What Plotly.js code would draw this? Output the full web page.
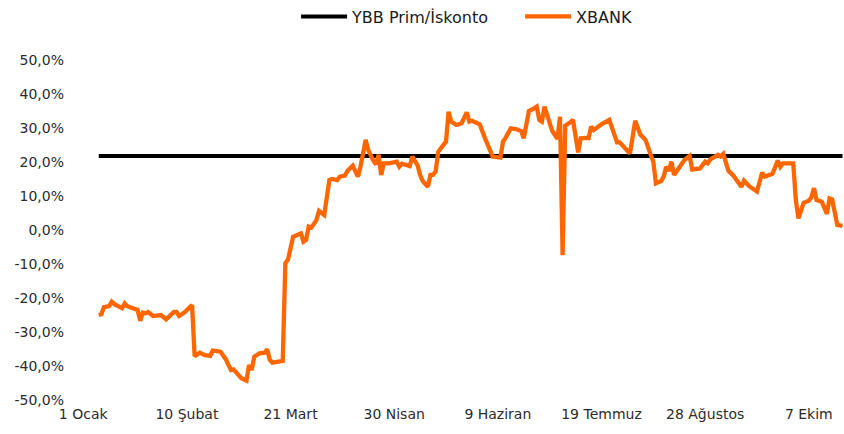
<!DOCTYPE html>
<html>
<head>
<meta charset="utf-8">
<script src="https://cdn.plot.ly/plotly-3.0.1.min.js"></script>
<style>
html,body{margin:0;padding:0;background:#fff;}
#chart{width:844px;height:434px;}
</style>
</head>
<body>
<div id="chart"></div>
<script>
const xbankDates = [
'2024-01-07','2024-01-08','2024-01-09','2024-01-11','2024-01-12','2024-01-13','2024-01-16','2024-01-17','2024-01-18','2024-01-22',
'2024-01-23','2024-01-24','2024-01-25','2024-01-26','2024-01-28','2024-01-31','2024-02-02','2024-02-05','2024-02-06','2024-02-07',
'2024-02-09','2024-02-12','2024-02-13','2024-02-15','2024-02-17','2024-02-19','2024-02-20','2024-02-22','2024-02-23','2024-02-25',
'2024-02-27','2024-02-28','2024-03-01','2024-03-02','2024-03-04','2024-03-05','2024-03-06','2024-03-07','2024-03-09','2024-03-11',
'2024-03-12','2024-03-13','2024-03-14','2024-03-18','2024-03-19','2024-03-20','2024-03-22','2024-03-25','2024-03-26','2024-03-27',
'2024-03-28','2024-03-29','2024-03-31','2024-04-01','2024-04-03','2024-04-05','2024-04-06','2024-04-08','2024-04-09','2024-04-11',
'2024-04-12','2024-04-14','2024-04-16','2024-04-17','2024-04-19','2024-04-20','2024-04-22','2024-04-23','2024-04-24','2024-04-25',
'2024-04-26','2024-04-28','2024-05-01','2024-05-02','2024-05-03','2024-05-06','2024-05-07','2024-05-08','2024-05-09','2024-05-10',
'2024-05-11','2024-05-13','2024-05-14','2024-05-15','2024-05-16','2024-05-17','2024-05-19','2024-05-20','2024-05-21','2024-05-22',
'2024-05-24','2024-05-26','2024-05-28','2024-05-29','2024-05-30','2024-06-02','2024-06-04','2024-06-05','2024-06-06','2024-06-07',
'2024-06-10','2024-06-11','2024-06-12','2024-06-14','2024-06-16','2024-06-18','2024-06-19','2024-06-21','2024-06-23','2024-06-24',
'2024-06-25','2024-06-26','2024-06-27','2024-06-29','2024-06-30','2024-07-02','2024-07-03','2024-07-04','2024-07-05','2024-07-07',
'2024-07-08','2024-07-10','2024-07-11','2024-07-13','2024-07-14','2024-07-15','2024-07-16','2024-07-19','2024-07-22','2024-07-25',
'2024-07-26','2024-07-30','2024-08-01','2024-08-03','2024-08-05','2024-08-07','2024-08-08','2024-08-09','2024-08-11','2024-08-12',
'2024-08-13','2024-08-14','2024-08-15','2024-08-16','2024-08-18','2024-08-20','2024-08-22','2024-08-23','2024-08-26','2024-08-28',
'2024-08-29','2024-08-30','2024-09-02','2024-09-03','2024-09-04','2024-09-06','2024-09-08','2024-09-10','2024-09-11','2024-09-12',
'2024-09-14','2024-09-17','2024-09-18','2024-09-19','2024-09-20','2024-09-23','2024-09-25','2024-09-26','2024-09-27','2024-10-01',
'2024-10-02','2024-10-03','2024-10-05','2024-10-07','2024-10-08','2024-10-09','2024-10-10','2024-10-12','2024-10-14','2024-10-15',
'2024-10-16','2024-10-18','2024-10-20'];

const xbankValues = [
-25.0,-24.8,-22.7,-22.4,-21.1,-21.8,-23.0,-21.6,-22.4,-23.5,
-26.7,-24.3,-24.5,-24.1,-25.3,-25.0,-26.3,-24.1,-24.1,-25.3,
-24.3,-22.1,-37.1,-36.1,-36.8,-37.0,-35.5,-35.8,-35.8,-38.0,
-41.2,-41.0,-42.6,-43.6,-44.3,-39.7,-41.2,-37.3,-36.3,-36.1,
-35.1,-38.2,-39.0,-38.5,-9.8,-8.8,-2.0,-1.0,-3.4,-2.9,
1.0,0.7,2.9,5.6,4.4,14.7,15.0,14.7,15.7,16.0,
17.4,18.9,15.7,18.6,26.5,23.5,20.3,19.3,22.1,16.2,
19.6,19.6,20.1,18.6,19.5,18.8,21.6,20.6,19.1,16.2,
14.4,12.7,16.2,16.2,17.2,23.0,25.0,26.0,34.8,31.9,
30.9,31.4,34.6,31.9,32.1,31.1,27.1,25.2,23.5,21.6,
21.3,26.0,27.1,29.9,29.7,29.1,27.0,35.0,35.8,36.3,
32.4,31.9,36.3,31.4,29.1,26.8,33.3,-7.4,30.7,31.7,
32.4,22.8,27.0,27.1,27.0,30.4,29.4,31.1,32.4,25.8,
25.8,22.5,32.1,28.1,26.5,22.1,20.1,13.7,14.4,15.7,
18.6,17.4,20.1,16.2,18.6,20.6,21.8,17.8,18.1,20.1,
19.6,20.8,22.1,21.6,22.4,17.4,15.9,13.7,12.7,14.5,
12.9,11.3,14.2,16.9,15.7,16.5,20.4,18.6,19.6,19.6,
8.8,3.4,8.0,8.6,9.6,12.3,8.8,8.3,4.7,9.3,
9.0,1.5,1.2];

const ybbDates = ['2024-01-07','2024-10-20'];
const ybbValues = [21.8, 21.8];

const xTickVals = ['2024-01-01','2024-02-10','2024-03-21','2024-04-30','2024-06-09','2024-07-19','2024-08-28','2024-10-07'];
const xTickText = ['1 Ocak','10 Şubat','21 Mart','30 Nisan','9 Haziran','19 Temmuz','28 Ağustos','7 Ekim'];
const yTickVals = [50,40,30,20,10,0,-10,-20,-30,-40,-50];
const yTickText = ['50,0%','40,0%','30,0%','20,0%','10,0%','0,0%','-10,0%','-20,0%','-30,0%','-40,0%','-50,0%'];

const seriesNames = ['YBB Prim/İskonto','XBANK'];

const traces = [
  {x: ybbDates, y: ybbValues, name: seriesNames[0], type: 'scatter', mode: 'lines',
   line: {color: '#000000', width: 4}, hoverinfo: 'skip'},
  {x: xbankDates, y: xbankValues, name: seriesNames[1], type: 'scatter', mode: 'lines',
   line: {color: '#FF6600', width: 4.3, shape: 'linear'}}
];

const layout = {
  width: 844, height: 434,
  margin: {l: 83, r: 0, t: 60, b: 34, pad: 0, autoexpand: false},
  paper_bgcolor: '#ffffff', plot_bgcolor: '#ffffff',
  font: {family: 'DejaVu Sans, Verdana, sans-serif', size: 14, color: '#2b2b2b'},
  showlegend: true,
  legend: {orientation: 'h', x: 0.28, xanchor: 'left', y: 1.178, yanchor: 'top',
           itemwidth: 46, entrywidth: 163, entrywidthmode: 'pixels',
           font: {size: 16, color: '#1a1a1a'}, bgcolor: 'rgba(0,0,0,0)'},
  xaxis: {type: 'date', range: ['2023-12-31 22:00', '2024-10-20 14:00'],
          tickmode: 'array', tickvals: xTickVals, ticktext: xTickText,
          showgrid: false, zeroline: false, showline: false, ticks: '',
          ticklabelstandoff: 4, fixedrange: true, automargin: false},
  yaxis: {range: [-50, 50], tickmode: 'array', tickvals: yTickVals, ticktext: yTickText,
          showgrid: false, zeroline: false, showline: false, ticks: '',
          ticklabelstandoff: 18, fixedrange: true, automargin: false}
};

Plotly.newPlot('chart', traces, layout, {displayModeBar: false, staticPlot: true});
</script>
</body>
</html>
